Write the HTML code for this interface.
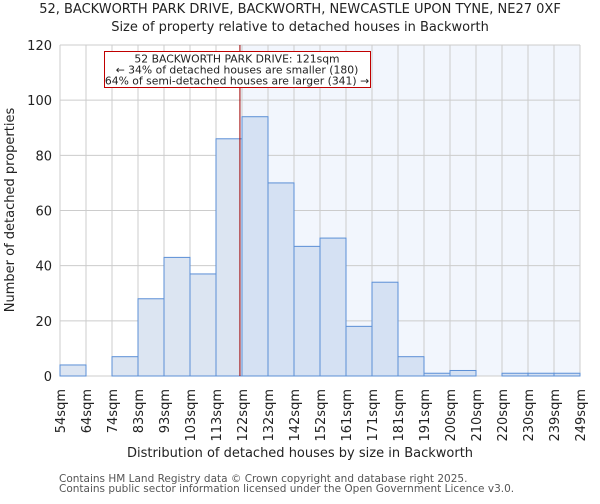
<!DOCTYPE html>
<html><head><meta charset="utf-8"><style>
body{margin:0;background:#fff;font-family:"DejaVu Sans","Liberation Sans",sans-serif}
text{font-family:"DejaVu Sans","Liberation Sans",sans-serif}
</style></head><body>
<svg id="c" width="600" height="500" xmlns="http://www.w3.org/2000/svg">
<text x="300" y="13" text-anchor="middle" font-size="13" fill="#222">52, BACKWORTH PARK DRIVE, BACKWORTH, NEWCASTLE UPON TYNE, NE27 0XF</text>
<text x="300" y="31" text-anchor="middle" font-size="13" fill="#222">Size of property relative to detached houses in Backworth</text>
<g id="plot"></g>
<text x="300" y="457" text-anchor="middle" font-size="13" fill="#222">Distribution of detached houses by size in Backworth</text>
<text transform="translate(14,210) rotate(-90)" text-anchor="middle" font-size="13" fill="#222">Number of detached properties</text>
<text x="59" y="482" font-size="10.5" fill="#555">Contains HM Land Registry data © Crown copyright and database right 2025.</text>
<text x="59" y="492" font-size="10.5" fill="#555">Contains public sector information licensed under the Open Government Licence v3.0.</text>
</svg>
<script>
const categories=["54sqm","64sqm","74sqm","83sqm","93sqm","103sqm","113sqm","122sqm","132sqm","142sqm","152sqm","161sqm","171sqm","181sqm","191sqm","200sqm","210sqm","220sqm","230sqm","239sqm","249sqm"];
const counts=[4,0,7,28,43,37,86,94,70,47,50,18,34,7,1,2,0,1,1,1];
const yTicks=[0,20,40,60,80,100,120];
const markerBin=6.92;
const NS="http://www.w3.org/2000/svg";
const g=document.getElementById('plot');
const L=60,R=580,T=45,B=376,yMax=120;
const n=counts.length,bw=(R-L)/n;
const xs=i=>L+i*bw, ys=v=>B-v/yMax*(B-T);
function mk(t,a){const e=document.createElementNS(NS,t);for(const k in a)e.setAttribute(k,a[k]);g.appendChild(e);return e;}
const mx=xs(markerBin);
let e=mk('rect',{x:mx,y:T,width:R-mx,height:B-T,fill:'#f2f6fd'});


for(let i=0;i<=n;i++){e=mk('line',{x1:xs(i),x2:xs(i),y1:T,y2:B,stroke:'#cccccc','stroke-width':1});

}
yTicks.forEach(v=>{e=mk('line',{x1:L,x2:R,y1:ys(v),y2:ys(v),stroke:'#cccccc','stroke-width':1});


e=mk('text',{x:L-8,y:ys(v)+5,'text-anchor':'end','font-size':13,fill:'#222'});e.textContent=v;

});
counts.forEach((c,i)=>{if(c<=0)return;e=mk('rect',{x:xs(i),y:ys(c),width:bw,height:B-ys(c),fill:i>=7?'#d5e1f3':'#dce5f2',stroke:'#5b8fd6','stroke-width':1});

});
categories.forEach((c,i)=>{const x=xs(i);e=mk('text',{transform:`translate(${x+5},389) rotate(-90)`,'text-anchor':'end','font-size':13,fill:'#222'});e.textContent=c;

});
e=mk('line',{x1:mx,x2:mx,y1:T,y2:B,stroke:'#a00000','stroke-width':1});


e=mk('rect',{x:104.5,y:51.5,width:266,height:36,fill:'#fff',stroke:'#c00000','stroke-width':1});


["52 BACKWORTH PARK DRIVE: 121sqm","← 34% of detached houses are smaller (180)","64% of semi-detached houses are larger (341) →"].forEach((t,k)=>{e=mk('text',{x:237,y:62.5+k*11,'text-anchor':'middle','font-size':10.8,fill:'#222'});e.textContent=t;

});
</script>
</body></html>
